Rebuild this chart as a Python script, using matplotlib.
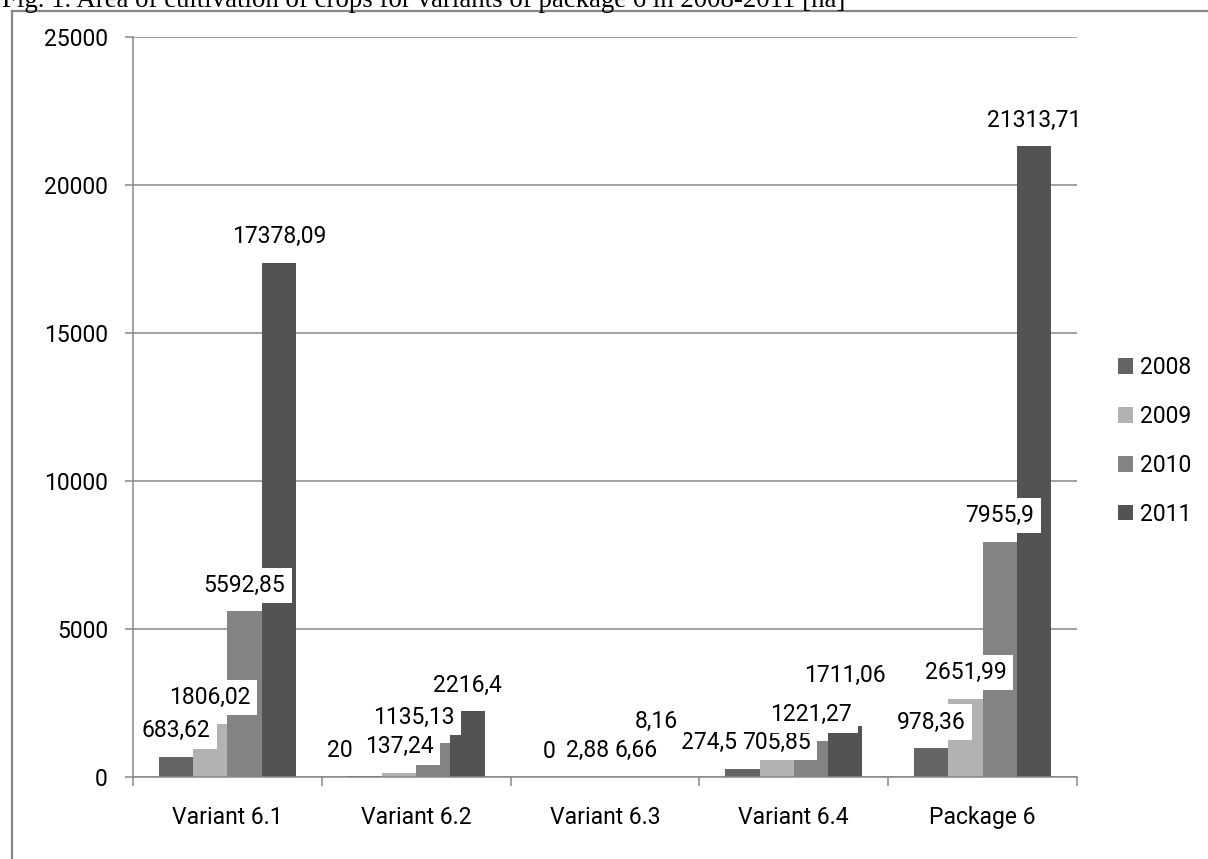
import numpy as np
import matplotlib.pyplot as plt
from matplotlib.lines import Line2D

# Area of cultivation [ha] per variant and year
categories = ["Variant 6.1", "Variant 6.2", "Variant 6.3", "Variant 6.4", "Package 6"]
years = ["2008", "2009", "2010", "2011"]
area_2008 = [683.62, 20, 0, 274.5, 978.36]
area_2009 = [1806.02, 137.24, 2.88, 705.85, 2651.99]
area_2010 = [5592.85, 1135.13, 6.66, 1221.27, 7955.9]
area_2011 = [17378.09, 2216.4, 8.16, 1711.06, 21313.71]
series = [area_2008, area_2009, area_2010, area_2011]
colors = ["#646464", "#b2b2b2", "#838383", "#535353"]
y_ticks = [0, 5000, 10000, 15000, 20000, 25000]

# labels that had to be nudged to stay readable: (series, category) -> (dx, dy) in px
nudge = {
    (0, 1): (-25, 0),
    (2, 1): (-20, 0),
    (0, 2): (-4, 0),
    (2, 2): (14, 0),
    (3, 2): (0, 29),
    (0, 3): (-33, 0),
    (1, 3): (0, -12),
    (3, 3): (0, 25),
}

FONT = "Roboto"
FS = 16.5
GRAY = "#878787"
PX = 0.72  # points per pixel at dpi 100


def fmt(v):
    s = ("%.2f" % v).rstrip("0").rstrip(".")
    return s.replace(".", ",")


fig = plt.figure(figsize=(12.08, 8.59), dpi=100)
ax = fig.add_axes([133 / 1208, 1 - 777 / 859, (1077 - 133) / 1208, (777 - 37) / 859])

x = np.arange(len(categories))
width = 0.1815
bars = []
for i, vals in enumerate(series):
    b = ax.bar(x + (i - 1.5) * width, vals, width, color=colors[i], label=years[i], zorder=2)
    bars.append(b)

# value labels on white boxes, drawn series by series so later boxes cover earlier ones
for i, vals in enumerate(series):
    for j, v in enumerate(vals):
        dx, dy = nudge.get((i, j), (0, 0))
        ax.annotate(fmt(v), xy=(x[j] + (i - 1.5) * width, v),
                    xytext=(dx * PX, (26 + dy) * PX), textcoords="offset points",
                    ha="center", va="center", fontsize=FS, family=FONT, color="black",
                    bbox=dict(boxstyle="square,pad=0.28", fc="white", ec="none"),
                    zorder=5 + i, annotation_clip=False)

ax.set_ylim(0, 25000)
ax.set_xlim(-0.5, len(categories) - 0.5)
ax.set_yticks(y_ticks)
ax.set_yticklabels([str(t) for t in y_ticks], family=FONT, fontsize=FS)
ax.yaxis.grid(True, color=GRAY, linewidth=1.1, zorder=0)
ax.set_axisbelow(True)
ax.tick_params(axis="y", length=8 * PX, width=1.1, color=GRAY, pad=17 * PX)

ax.set_xticks(np.arange(-0.5, len(categories), 1.0))
ax.set_xticklabels([])
ax.set_xticks(x, minor=True)
ax.set_xticklabels(categories, minor=True, family=FONT, fontsize=FS)
ax.tick_params(axis="x", which="major", length=9 * PX, width=1.1, color=GRAY)
ax.tick_params(axis="x", which="minor", length=0, pad=29 * PX)

for side in ["top", "right"]:
    ax.spines[side].set_visible(False)
for side in ["left", "bottom"]:
    ax.spines[side].set_color(GRAY)
    ax.spines[side].set_linewidth(1.1)

leg = fig.legend(handles=bars, labels=years, loc="center left",
                 bbox_to_anchor=(1118 / 1208, 1 - 441 / 859), frameon=False,
                 prop={"family": FONT, "size": FS}, handlelength=0.65, handleheight=0.65,
                 handletextpad=0.3, labelspacing=1.13, borderpad=0, borderaxespad=0)

# outer chart frame
fy = 1 - 11 / 859
fx = 12 / 1208
fig.add_artist(Line2D([fx, fx], [fy, 0], transform=fig.transFigure, color=GRAY, linewidth=1.6))
fig.add_artist(Line2D([fx, 1], [fy, fy], transform=fig.transFigure, color=GRAY, linewidth=1.6))

fig.text(2 / 1208, 1 - 7 / 859,
         "Fig. 1. Area of cultivation of crops for variants of package 6 in 2008-2011 [ha]",
         family="Liberation Serif", fontsize=19.3, va="baseline", ha="left")

fig.savefig("out.png", dpi=100)
